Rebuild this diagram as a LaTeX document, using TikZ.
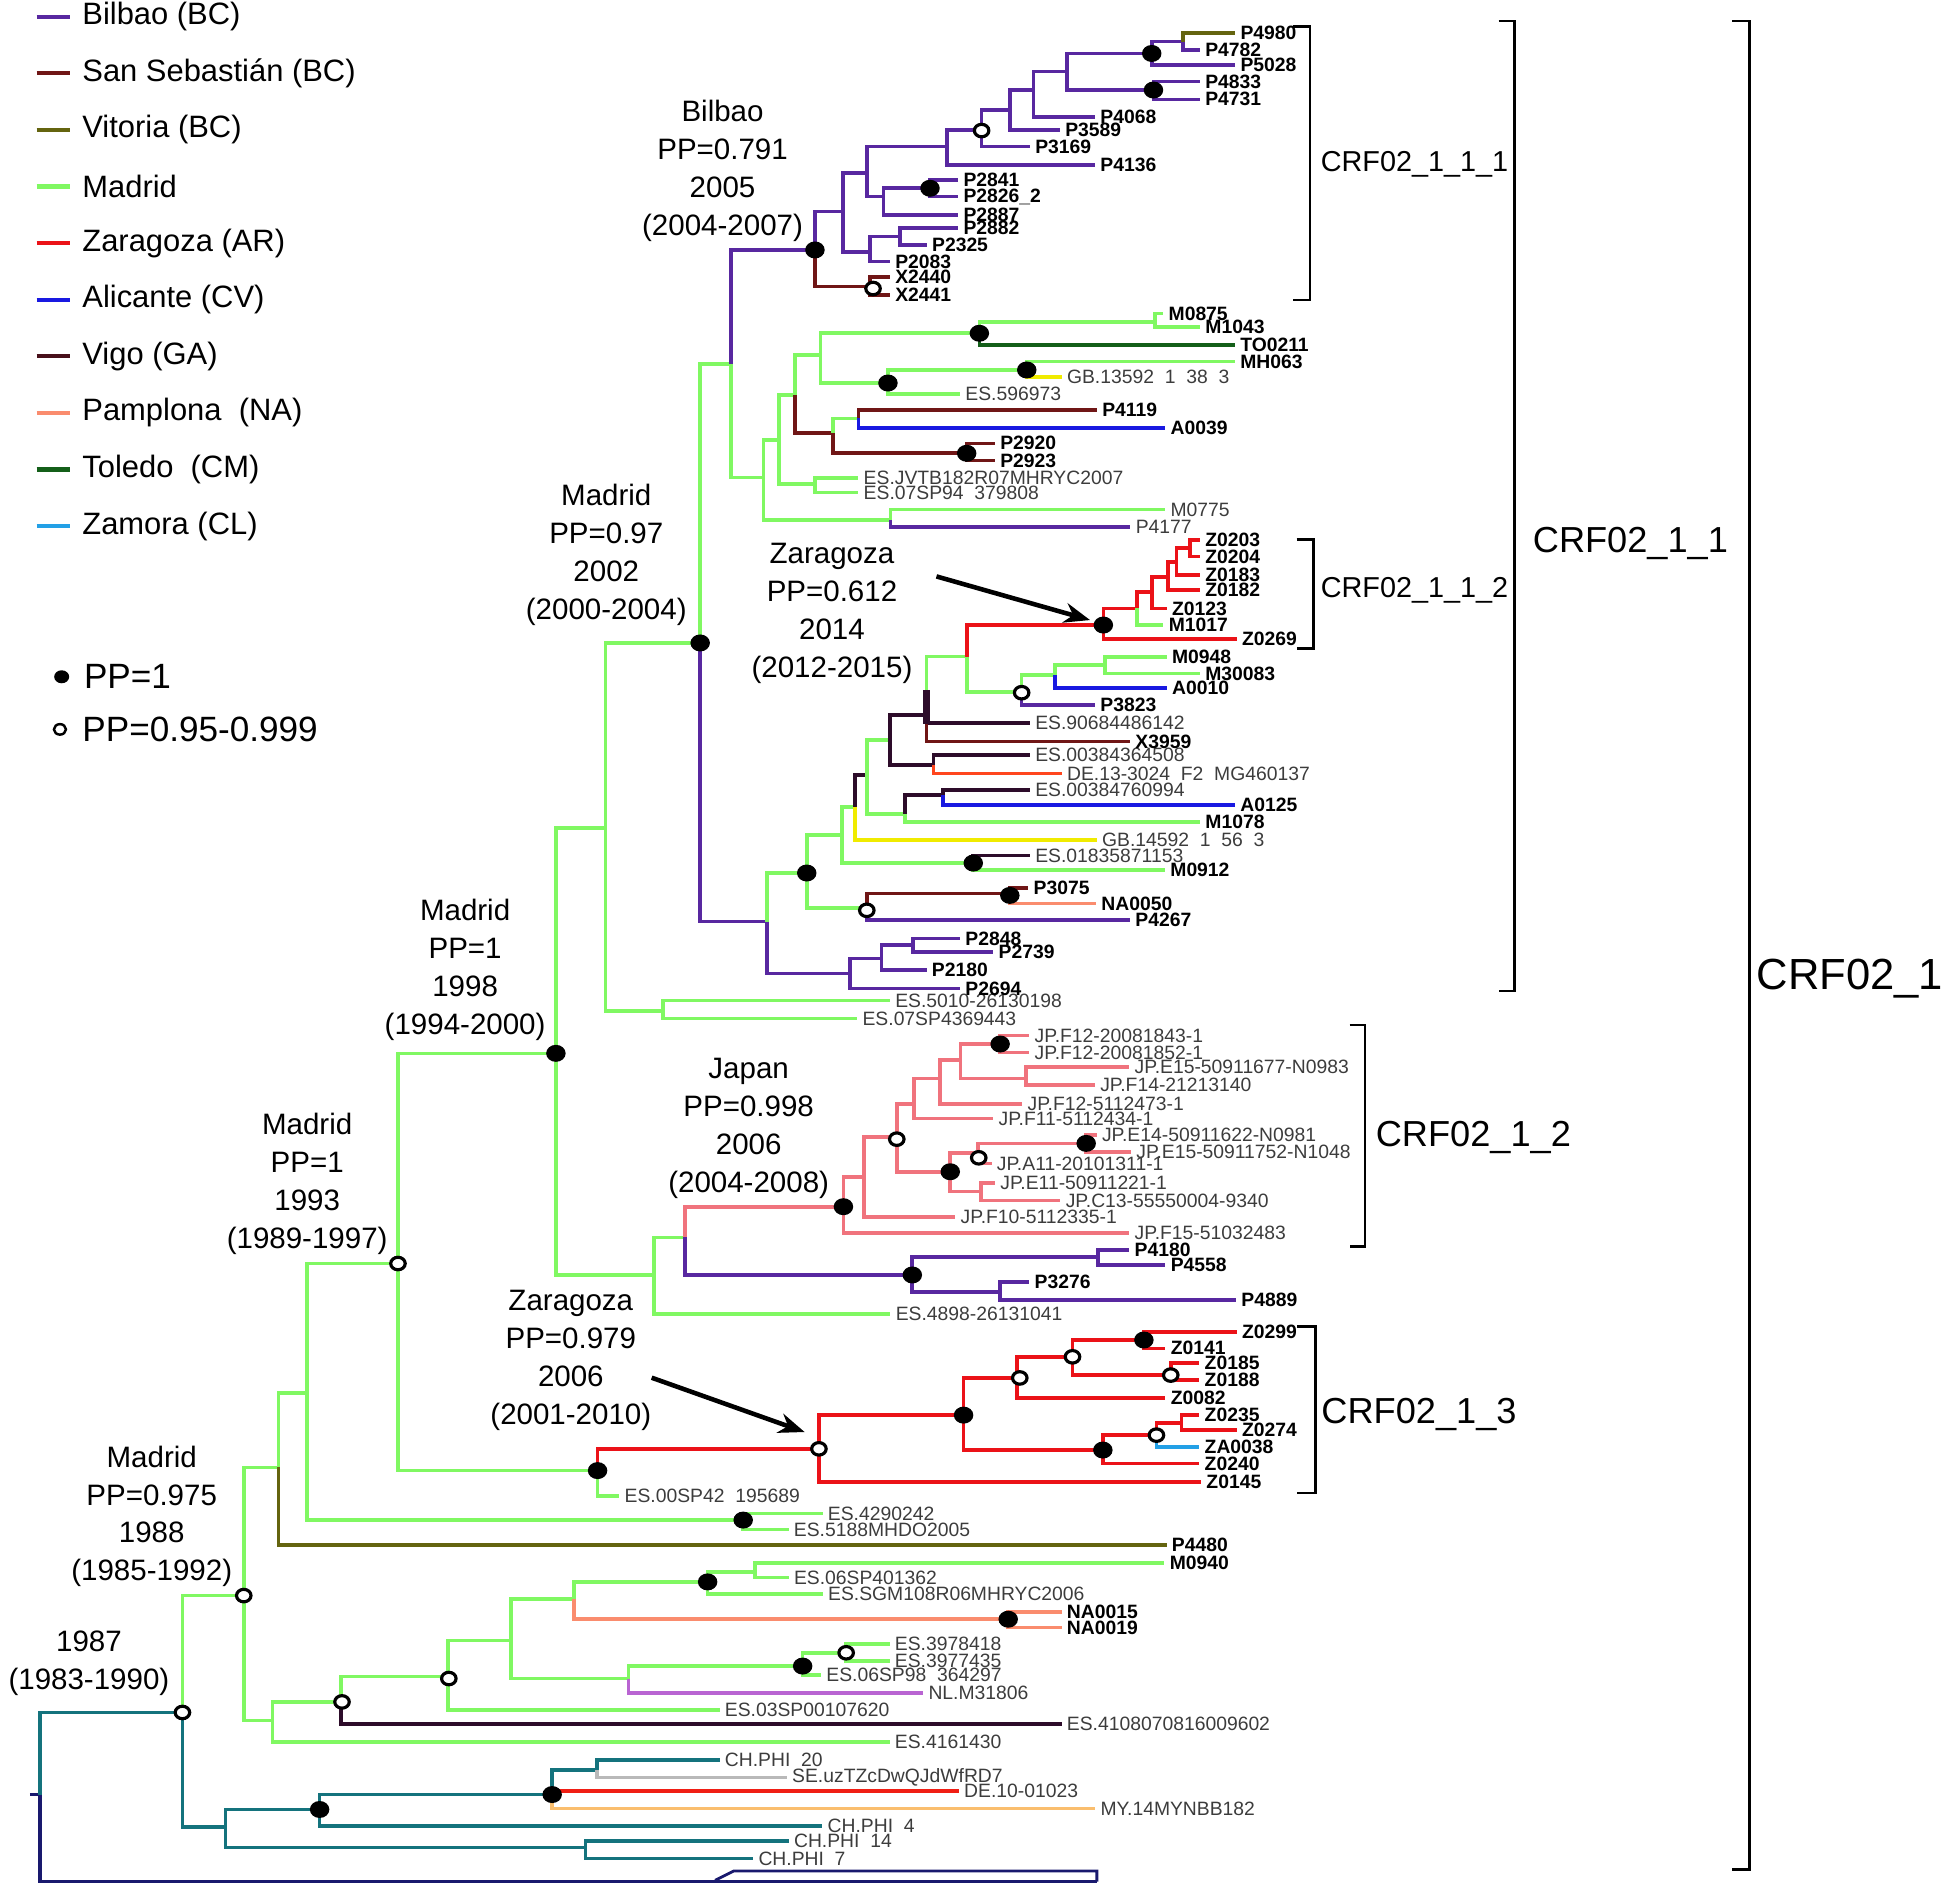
\documentclass[tikz,border=0pt]{standalone}
\usepackage{fontspec}
\setmainfont{Liberation Sans}
\usetikzlibrary{arrows.meta,shapes.geometric}

\definecolor{bilbao}{RGB}{88,40,160}
\definecolor{sanseb}{RGB}{112,22,22}
\definecolor{vitoria}{RGB}{100,100,15}
\definecolor{mad}{RGB}{128,248,98}
\definecolor{zar}{RGB}{235,18,24}
\definecolor{alic}{RGB}{25,25,225}
\definecolor{vigo}{RGB}{72,16,26}
\definecolor{dark}{RGB}{45,12,42}
\definecolor{pampl}{RGB}{250,140,110}
\definecolor{toledo}{RGB}{20,95,25}
\definecolor{zamora}{RGB}{35,160,230}
\definecolor{japan}{RGB}{240,115,125}
\definecolor{tealb}{RGB}{20,115,125}
\definecolor{navyb}{RGB}{25,25,110}
\definecolor{yel}{RGB}{240,235,0}
\definecolor{greyl}{RGB}{185,185,185}
\definecolor{orng}{RGB}{250,190,110}
\definecolor{dered}{RGB}{240,30,20}
\definecolor{deor}{RGB}{255,70,30}
\definecolor{nlc}{RGB}{185,100,210}
\definecolor{labgrey}{RGB}{60,60,60}

\tikzset{
  br/.style={line width=1.05pt},
  tipb/.style={anchor=west, inner sep=1pt, text=black, font=\fontsize{5.5}{6}\selectfont\bfseries},
  tipr/.style={anchor=west, inner sep=1pt, text=labgrey, font=\fontsize{5.5}{6}\selectfont},
  ppone/.style={ellipse, fill=black, inner sep=0pt, minimum width=1.95mm, minimum height=1.7mm},
  pphi/.style={ellipse, draw=black, fill=white, line width=0.9pt, inner sep=0pt, minimum width=1.45mm, minimum height=1.25mm},
  ann/.style={align=center, inner sep=0pt, font=\fontsize{8.4}{10.8}\selectfont},
  legt/.style={anchor=west, inner sep=0pt, font=\fontsize{8.8}{10}\selectfont},
  crf/.style={anchor=west, inner sep=0pt},
  brk/.style={line width=0.75pt},
  arr/.style={line width=1.3pt, -{Stealth[length=2.6mm, width=2mm]}},
}

\begin{document}
\begin{tikzpicture}[x=0.1244mm, y=-0.1244mm]
\useasboundingbox (0,0) rectangle (1568,1523);

% legend
\foreach \c/\t [count=\i] in {bilbao/Bilbao (BC), sanseb/San Sebastián (BC), vitoria/Vitoria (BC), mad/Madrid, zar/Zaragoza (AR), alic/Alicante (CV), vigo/Vigo (GA), pampl/Pamplona\ \ (NA), toledo/Toledo\ \ (CM), zamora/Zamora (CL)}{
  \pgfmathsetmacro{\ly}{13.5+45.5*(\i-1)}
  \draw[\c, line width=1.2pt] (29.5,\ly) -- (56.3,\ly);
  \node[legt] (leg\i) at (65.7,\ly) {\t};
}
\node[ppone, minimum width=1.5mm, minimum height=1.3mm] (keyone) at (49.6,544.2) {};
\node[legt, font=\fontsize{10}{12}\selectfont] (keyonet) at (67,544.2) {PP=1};
\node[pphi, minimum width=1.2mm, minimum height=1.05mm, line width=0.7pt] (keyhi) at (48.2,586.5) {};
\node[legt, font=\fontsize{10}{12}\selectfont] (keyhit) at (65.7,586.5) {PP=0.95-0.999};

% root and outgroup
\draw[navyb, br] (24,1443) -- (32,1443);
\draw[tealb, br] (32,1443) |- (146.7,1377);
\draw[navyb, br] (32,1443) |- (882,1513);
\draw[navyb, line width=0.8pt] (575,1512) -- (590,1504.5) -- (882,1504.5) -- (882,1513);

% teal clade
\draw[mad, br] (146.7,1377) |- (196,1283);
\draw[tealb, br] (146.7,1377) |- (181.4,1469);
\draw[tealb, br] (181.4,1469) |- (257,1455);
\draw[tealb, br] (181.4,1469) |- (470.7,1485.6);
\draw[tealb, br] (470.7,1485.6) |- (634.2,1480.4) node[tipr] (chphi14) {CH.PHI\ \ 14};
\draw[tealb, br] (470.7,1485.6) |- (605.6,1494.3) node[tipr] (chphi7) {CH.PHI\ \ 7};
\draw[tealb, br] (257,1455) |- (444,1443);
\draw[tealb, br] (257,1455) |- (661.2,1468.3) node[tipr] (chphi4) {CH.PHI\ \ 4};
\draw[tealb, br] (444,1443) |- (480,1423);
\draw[dered, br] (444,1443) |- (771,1440) node[tipr] (de1001023) {DE.10-01023};
\draw[orng, br] (444,1443) |- (880.7,1454.1) node[tipr] (my14) {MY.14MYNBB182};
\draw[tealb, br] (480,1423) |- (578.6,1415.2) node[tipr] (chphi20) {CH.PHI\ \ 20};
\draw[greyl, br] (480,1423) |- (632.7,1429.2) node[tipr] (seuz) {SE.uzTZcDwQJdWfRD7};

% Madrid 1988 and below
\draw[mad, br] (196,1283) |- (224,1180);
\draw[mad, br] (196,1283) |- (219,1383.4);
\draw[mad, br] (224,1180) |- (247,1120);
\draw[vitoria, br] (224,1180) |- (938,1242.5) node[tipb] (p4480) {P4480};
\draw[mad, br] (247,1120) |- (320,1016);
\draw[mad, br] (247,1120) |- (597.6,1222.3);
\draw[mad, br] (597.6,1222.3) |- (661.4,1216.9) node[tipr] (es4290242) {ES.4290242};
\draw[mad, br] (597.6,1222.3) |- (634.1,1229.8) node[tipr] (es5188) {ES.5188MHDO2005};
\draw[mad, br] (219,1383.4) |- (274,1368.5);
\draw[mad, br] (219,1383.4) |- (715.3,1400.5) node[tipr] (es4161430) {ES.4161430};
\draw[mad, br] (274,1368.5) |- (360,1348);
\draw[dark, br] (274,1368.5) |- (853.6,1386.3) node[tipr] (es4108) {ES.4108070816009602};
\draw[mad, br] (360,1348) |- (410.7,1319.1);
\draw[mad, br] (360,1348) |- (578.6,1375) node[tipr] (es03sp) {ES.03SP00107620};
\draw[mad, br] (410.7,1319.1) |- (461.5,1285.5);
\draw[mad, br] (410.7,1319.1) |- (505.3,1349.7);
\draw[mad, br] (461.5,1285.5) |- (569,1272);
\draw[pampl, br] (461.5,1285.5) |- (810.7,1302);
\draw[mad, br] (569,1272) |- (607.2,1263.8);
\draw[mad, br] (569,1272) |- (661.6,1281.8) node[tipr] (essgm) {ES.SGM108R06MHRYC2006};
\draw[mad, br] (607.2,1263.8) |- (936.3,1256.6) node[tipb] (m0940) {M0940};
\draw[mad, br] (607.2,1263.8) |- (634.2,1268.4) node[tipr] (es06sp40) {ES.06SP401362};
\draw[pampl, br] (810.7,1302) |- (853.6,1296) node[tipb] (na0015) {NA0015};
\draw[pampl, br] (810.7,1302) |- (853.6,1308.6) node[tipb] (na0019) {NA0019};
\draw[mad, br] (505.3,1349.7) |- (645.4,1339.7);
\draw[nlc, br] (505.3,1349.7) |- (742.3,1361.1) node[tipr] (nlm31806) {NL.M31806};
\draw[mad, br] (645.4,1339.7) |- (680.4,1329);
\draw[mad, br] (645.4,1339.7) |- (660.2,1346.9) node[tipr] (es06sp98) {ES.06SP98\ \ 364297};
\draw[mad, br] (680.4,1329) |- (715.3,1322) node[tipr] (es3978418) {ES.3978418};
\draw[mad, br] (680.4,1329) |- (715.3,1335.4) node[tipr] (es3977435) {ES.3977435};

% Madrid 1993 and Zaragoza CRF02_1_3
\draw[mad, br] (320,1016) |- (447,847);
\draw[mad, br] (320,1016) |- (480.5,1182.5);
\draw[zar, br] (480.5,1182.5) |- (658.5,1165);
\draw[mad, br] (480.5,1182.5) |- (498,1202.8) node[tipr] (es00sp42) {ES.00SP42\ \ 195689};
\draw[zar, br] (658.5,1165) |- (774.8,1137.9);
\draw[zar, br] (658.5,1165) |- (965.8,1191.4) node[tipb] (z0145) {Z0145};
\draw[zar, br] (774.8,1137.9) |- (817.9,1108.3);
\draw[zar, br] (774.8,1137.9) |- (886.8,1166);
\draw[zar, br] (817.9,1108.3) |- (862.4,1091);
\draw[zar, br] (817.9,1108.3) |- (937.1,1124.4) node[tipb] (z0082) {Z0082};
\draw[zar, br] (862.4,1091) |- (919.8,1077.5);
\draw[zar, br] (862.4,1091) |- (941.4,1105.7);
\draw[zar, br] (919.8,1077.5) |- (994.5,1070.8) node[tipb] (z0299) {Z0299};
\draw[zar, br] (919.8,1077.5) |- (937.1,1084.2) node[tipb] (z0141) {Z0141};
\draw[zar, br] (941.4,1105.7) |- (964.4,1096.2) node[tipb] (z0185) {Z0185};
\draw[zar, br] (941.4,1105.7) |- (964.4,1109.6) node[tipb] (z0188) {Z0188};
\draw[zar, br] (886.8,1166) |- (929.9,1154);
\draw[zar, br] (886.8,1166) |- (964.4,1176.8) node[tipb] (z0240) {Z0240};
\draw[zar, br] (929.9,1154) |- (950,1144.5);
\draw[zamora, br] (929.9,1154) |- (964.4,1163.3) node[tipb] (za0038) {ZA0038};
\draw[zar, br] (950,1144.5) |- (964.4,1138) node[tipb] (z0235) {Z0235};
\draw[zar, br] (950,1144.5) |- (994.5,1150) node[tipb] (z0274) {Z0274};

% Madrid 1998 backbone
\draw[mad, br] (447,847) |- (487,666);
\draw[mad, br] (487,666) |- (563,517);
\draw[mad, br] (487,666) |- (533,812.7);
\draw[mad, br] (533,812.7) |- (715.6,804.6) node[tipr] (es5010) {ES.5010-26130198};
\draw[mad, br] (533,812.7) |- (689.3,819) node[tipr] (es07sp43) {ES.07SP4369443};
\draw[mad, br] (447,847) |- (526,1025);
\draw[mad, br] (526,1025) |- (551,995);
\draw[mad, br] (526,1025) |- (716,1056.6) node[tipr] (es4898) {ES.4898-26131041};
\draw[japan, br] (551,995) |- (678.2,970.3);
\draw[bilbao, br] (551,995) |- (733.6,1025.2);

% Japan clade CRF02_1_2
\draw[japan, br] (678.2,970.3) |- (694.8,946.2);
\draw[japan, br] (678.2,970.3) |- (908.1,991.3) node[tipr] (jpf15a) {JP.F15-51032483};
\draw[japan, br] (694.8,946.2) |- (721.1,914.3);
\draw[japan, br] (694.8,946.2) |- (768.2,978.4) node[tipr] (jpf10) {JP.F10-5112335-1};
\draw[japan, br] (721.1,914.3) |- (735,887.7);
\draw[japan, br] (721.1,914.3) |- (764.1,942.2);
\draw[japan, br] (735,887.7) |- (755.8,867.1);
\draw[japan, br] (735,887.7) |- (798.7,899.3) node[tipr] (jpf11) {JP.F11-5112434-1};
\draw[japan, br] (755.8,867.1) |- (772.4,852.4);
\draw[japan, br] (755.8,867.1) |- (822,887.7) node[tipr] (jpf12c) {JP.F12-5112473-1};
\draw[japan, br] (772.4,852.4) |- (804.2,839.5);
\draw[japan, br] (772.4,852.4) |- (825,867.1);
\draw[japan, br] (804.2,839.5) |- (827.7,832.7) node[tipr] (jpf12a) {JP.F12-20081843-1};
\draw[japan, br] (804.2,839.5) |- (827.7,846.2) node[tipr] (jpf12b) {JP.F12-20081852-1};
\draw[japan, br] (825,867.1) |- (908.1,858.2) node[tipr] (jpe15a) {JP.E15-50911677-N0983};
\draw[japan, br] (825,867.1) |- (880.4,872.4) node[tipr] (jpf14) {JP.F14-21213140};
\draw[japan, br] (764.1,942.2) |- (786.2,927.4);
\draw[japan, br] (764.1,942.2) |- (789,958.1);
\draw[japan, br] (786.2,927.4) |- (873.4,919.4);
\draw[japan, br] (786.2,927.4) |- (797.3,935.5) node[tipr] (jpa11) {JP.A11-20101311-1};
\draw[japan, br] (873.4,919.4) |- (881.8,912.7) node[tipr] (jpe14) {JP.E14-50911622-N0981};
\draw[japan, br] (873.4,919.4) |- (909.5,926.1) node[tipr] (jpe15b) {JP.E15-50911752-N1048};
\draw[japan, br] (789,958.1) |- (800.1,951.4) node[tipr] (jpe11) {JP.E11-50911221-1};
\draw[japan, br] (789,958.1) |- (852.7,965.4) node[tipr] (jpc13) {JP.C13-55550004-9340};
\draw[bilbao, br] (733.6,1025.2) |- (883.1,1010.5);
\draw[bilbao, br] (733.6,1025.2) |- (804.2,1038.7);
\draw[bilbao, br] (883.1,1010.5) |- (908.1,1005.2) node[tipb] (p4180) {P4180};
\draw[bilbao, br] (883.1,1010.5) |- (937.1,1017.3) node[tipb] (p4558) {P4558};
\draw[bilbao, br] (804.2,1038.7) |- (827.7,1030.6) node[tipb] (p3276) {P3276};
\draw[bilbao, br] (804.2,1038.7) |- (993.9,1045.4) node[tipb] (p4889) {P4889};

% Madrid 0.97 node, upper green part
\draw[mad, br] (563,517) |- (588,292.5);
\draw[mad, br] (588,292.5) |- (614,384);
\draw[mad, br] (614,384) |- (626.6,353.6);
\draw[mad, br] (614,384) |- (716,418.2);
\draw[mad, br] (716,418.2) |- (937,409.6) node[tipr] (m0775) {M0775};
\draw[bilbao, br] (716,418.2) |- (909,423.5) node[tipr] (p4177) {P4177};
\draw[mad, br] (626.6,353.6) |- (639,317.7);
\draw[mad, br] (626.6,353.6) |- (655.2,389.4);
\draw[mad, br] (655.2,389.4) |- (690.2,384.4) node[tipr] (esjvtb) {ES.JVTB182R07MHRYC2007};
\draw[mad, br] (655.2,389.4) |- (690.2,396) node[tipr] (es07sp94) {ES.07SP94\ \ 379808};
\draw[mad, br] (639,317.7) |- (659.8,285.4);
\draw[sanseb, br] (639,317.7) |- (669.6,348.2);
\draw[mad, br] (659.8,285.4) |- (787.5,268);
\draw[mad, br] (659.8,285.4) |- (714,308);
\draw[mad, br] (787.5,268) |- (928.8,258.7);
\draw[toledo, br] (787.5,268) |- (993,277.4) node[tipb] (to0211) {TO0211};
\draw[mad, br] (928.8,258.7) |- (935.4,252) node[tipb] (m0875) {M0875};
\draw[mad, br] (928.8,258.7) |- (965,262.7) node[tipb] (m1043) {M1043};
\draw[mad, br] (714,308) |- (825.6,297.5);
\draw[mad, br] (714,308) |- (772,316.8) node[tipr] (es596973) {ES.596973};
\draw[mad, br] (825.6,297.5) |- (993,290.8) node[tipb] (mh063) {MH063};
\draw[yel, br] (825.6,297.5) |- (853.7,303.4) node[tipr] (gb13592) {GB.13592\ \ 1\ \ 38\ \ 3};
\draw[mad, br] (669.6,348.2) |- (690.2,336.4);
\draw[sanseb, br] (669.6,348.2) |- (777.3,364.5);
\draw[sanseb, br] (690.2,336.4) |- (882,329.7) node[tipb] (p4119) {P4119};
\draw[alic, br] (690.2,336.4) |- (937,344.4) node[tipb] (a0039) {A0039};
\draw[sanseb, br] (777.3,364.5) |- (800,356.5) node[tipb] (p2920) {P2920};
\draw[sanseb, br] (777.3,364.5) |- (800,370.4) node[tipb] (p2923) {P2923};

% Bilbao clade CRF02_1_1_1
\draw[bilbao, br] (588,292.5) |- (655.3,201);
\draw[bilbao, br] (655.3,201) |- (678.1,170.2);
\draw[sanseb, br] (655.3,201) |- (699.5,230.5);
\draw[sanseb, br] (699.5,230.5) |- (715.6,223) node[tipb] (x2440) {X2440};
\draw[sanseb, br] (699.5,230.5) |- (715.6,237.2) node[tipb] (x2441) {X2441};
\draw[bilbao, br] (678.1,170.2) |- (696.9,139.3);
\draw[bilbao, br] (678.1,170.2) |- (699.5,202.4);
\draw[bilbao, br] (699.5,202.4) |- (723.7,190.3);
\draw[bilbao, br] (699.5,202.4) |- (715.6,210.4) node[tipb] (p2083) {P2083};
\draw[bilbao, br] (723.7,190.3) |- (770.5,183.6) node[tipb] (p2882) {P2882};
\draw[bilbao, br] (723.7,190.3) |- (745.2,197) node[tipb] (p2325) {P2325};
\draw[bilbao, br] (696.9,139.3) |- (761.2,117.9);
\draw[bilbao, br] (696.9,139.3) |- (710.3,158.1);
\draw[bilbao, br] (710.3,158.1) |- (747.8,151.4);
\draw[bilbao, br] (710.3,158.1) |- (770.5,172.9) node[tipb] (p2887) {P2887};
\draw[bilbao, br] (747.8,151.4) |- (770.5,144.7) node[tipb] (p2841) {P2841};
\draw[bilbao, br] (747.8,151.4) |- (770.5,158.1) node[tipb] (p2826) {P2826\_2};
\draw[bilbao, br] (761.2,117.9) |- (789.3,104.5);
\draw[bilbao, br] (761.2,117.9) |- (880.5,132.7) node[tipb] (p4136) {P4136};
\draw[bilbao, br] (789.3,104.5) |- (812.1,88.5);
\draw[bilbao, br] (789.3,104.5) |- (828.2,117.9) node[tipb] (p3169) {P3169};
\draw[bilbao, br] (812.1,88.5) |- (831,72.4);
\draw[bilbao, br] (812.1,88.5) |- (852.3,104.5) node[tipb] (p3589) {P3589};
\draw[bilbao, br] (831,72.4) |- (857.7,57.6);
\draw[bilbao, br] (831,72.4) |- (880.5,94) node[tipb] (p4068) {P4068};
\draw[bilbao, br] (857.7,57.6) |- (926.1,43);
\draw[bilbao, br] (857.7,57.6) |- (927.5,72.4);
\draw[bilbao, br] (926.1,43) |- (951.5,33.5);
\draw[bilbao, br] (926.1,43) |- (993.2,52.3) node[tipb] (p5028) {P5028};
\draw[vitoria, br] (951.5,33.5) |- (993.2,26.3) node[tipb] (p4980) {P4980};
\draw[bilbao, br] (951.5,33.5) |- (964.9,40.2) node[tipb] (p4782) {P4782};
\draw[bilbao, br] (927.5,72.4) |- (964.9,65.6) node[tipb] (p4833) {P4833};
\draw[bilbao, br] (927.5,72.4) |- (964.9,79.9) node[tipb] (p4731) {P4731};

% Madrid 0.97 node, lower purple part
\draw[bilbao, br] (563,517) |- (616.5,741);
\draw[mad, br] (616.5,741) |- (648.7,702);
\draw[bilbao, br] (616.5,741) |- (683.5,782.7);
\draw[bilbao, br] (683.5,782.7) |- (708.9,770.7);
\draw[bilbao, br] (683.5,782.7) |- (772,794.8) node[tipb] (p2694) {P2694};
\draw[bilbao, br] (708.9,770.7) |- (734.4,759.9);
\draw[bilbao, br] (708.9,770.7) |- (745.1,780) node[tipb] (p2180) {P2180};
\draw[bilbao, br] (734.4,759.9) |- (772,754.6) node[tipb] (p2848) {P2848};
\draw[bilbao, br] (734.4,759.9) |- (798.7,765.3) node[tipb] (p2739) {P2739};
\draw[mad, br] (648.7,702) |- (676.8,671.4);
\draw[mad, br] (648.7,702) |- (696.9,730.4);
\draw[sanseb, br] (696.9,730.4) |- (812,718.4);
\draw[bilbao, br] (696.9,730.4) |- (908.7,739.8) node[tipb] (p4267) {P4267};
\draw[sanseb, br] (812,718.4) |- (826.9,714.3) node[tipb] (p3075) {P3075};
\draw[pampl, br] (812,718.4) |- (881.3,726.4) node[tipb] (na0050) {NA0050};
\draw[mad, br] (676.8,671.4) |- (687.5,648.7);
\draw[mad, br] (676.8,671.4) |- (782.6,694.2);
\draw[dark, br] (782.6,694.2) |- (828.2,687.8) node[tipr] (es0183) {ES.01835871153};
\draw[mad, br] (782.6,694.2) |- (936.8,699.6) node[tipb] (m0912) {M0912};
\draw[dark, br] (687.5,648.7) |- (696.9,623.2);
\draw[yel, br] (687.5,648.7) |- (881.9,675.5) node[tipr] (gb14592) {GB.14592\ \ 1\ \ 56\ \ 3};
\draw[mad, br] (696.9,623.2) |- (715.7,595);
\draw[mad, br] (696.9,623.2) |- (727.7,654.7);
\draw[dark, br] (727.7,654.7) |- (758.5,639.4);
\draw[mad, br] (727.7,654.7) |- (965,660.8) node[tipb] (m1078) {M1078};
\draw[dark, br] (758.5,639.4) |- (828.2,635.3) node[tipr] (es0038476) {ES.00384760994};
\draw[alic, br] (758.5,639.4) |- (993.1,647.4) node[tipb] (a0125) {A0125};
\draw[dark, br] (715.7,595) |- (745.1,575);
\draw[dark, br] (715.7,595) |- (750.5,615);
\draw[dark, br] (750.5,615) |- (828.2,607) node[tipr] (es0038436) {ES.00384364508};
\draw[deor, br] (750.5,615) |- (853.7,622) node[tipr] (de133024) {DE.13-3024\ \ F2\ \ MG460137};
\draw[mad, br] (745.1,575) |- (777.3,528);
\draw[dark, br] (745.1,575) |- (828.2,581.6) node[tipr] (es9068) {ES.90684486142};
\draw[sanseb, br] (745.1,575) |- (908.7,596.3) node[tipb] (x3959) {X3959};
\draw[dark, line width=2pt] (745.1,555) -- (745.1,582);
\draw[zar, br] (777.3,528) |- (887.2,502.6);
\draw[mad, br] (777.3,528) |- (821.5,556.2);

% Zaragoza clade CRF02_1_1_2
\draw[zar, br] (887.2,502.6) |- (914,489.2);
\draw[zar, br] (887.2,502.6) |- (994.4,514.1) node[tipb] (z0269) {Z0269};
\draw[zar, br] (914,489.2) |- (926.1,475.8);
\draw[mad, br] (914,489.2) |- (935.5,502.6) node[tipb] (m1017) {M1017};
\draw[zar, br] (926.1,475.8) |- (939.4,463.8);
\draw[zar, br] (926.1,475.8) |- (938.2,489.2) node[tipb] (z0123) {Z0123};
\draw[zar, br] (939.4,463.8) |- (946.1,451.7);
\draw[zar, br] (939.4,463.8) |- (964.9,474.5) node[tipb] (z0182) {Z0182};
\draw[zar, br] (946.1,451.7) |- (956.8,440.9);
\draw[zar, br] (946.1,451.7) |- (964.9,462.3) node[tipb] (z0183) {Z0183};
\draw[zar, br] (956.8,440.9) |- (964.9,434.2) node[tipb] (z0203) {Z0203};
\draw[zar, br] (956.8,440.9) |- (964.9,447.6) node[tipb] (z0204) {Z0204};
\draw[mad, br] (821.5,556.2) |- (848.3,542.8);
\draw[bilbao, br] (821.5,556.2) |- (880.5,566.9) node[tipb] (p3823) {P3823};
\draw[mad, br] (848.3,542.8) |- (888.5,534.8);
\draw[alic, br] (848.3,542.8) |- (938.2,553.5) node[tipb] (a0010) {A0010};
\draw[mad, br] (888.5,534.8) |- (938.2,528.1) node[tipb] (m0948) {M0948};
\draw[mad, br] (888.5,534.8) |- (964.9,541.5) node[tipb] (m30083) {M30083};

% PP = 1
\node[ppone] (dBil) at (655.3,201) {};
\node[ppone] (dP2841) at (747.8,151.4) {};
\node[ppone] (dP4980) at (926.1,43) {};
\node[ppone] (dP4833) at (927.5,72.4) {};
\node[ppone] (dM0875) at (787.5,268) {};
\node[ppone] (dES5969) at (714,308) {};
\node[ppone] (dMH063) at (825.6,297.5) {};
\node[ppone] (dP2920) at (777.3,364.5) {};
\node[ppone] (dMad97) at (563,517) {};
\node[ppone] (dZar612) at (887.2,502.6) {};
\node[ppone] (dM0912a) at (648.7,702) {};
\node[ppone] (dM0912b) at (782.6,694) {};
\node[ppone] (dP3075) at (812,720) {};
\node[ppone] (dMad98) at (447,847) {};
\node[ppone] (dJap) at (678.2,970.3) {};
\node[ppone] (dJP11) at (764.1,942.2) {};
\node[ppone] (dJP12) at (804.2,839.5) {};
\node[ppone] (dJP14) at (873.4,919.4) {};
\node[ppone] (dP4180) at (733.6,1025.2) {};
\node[ppone] (dES00) at (480.5,1182.5) {};
\node[ppone] (dZ0299a) at (774.8,1137.9) {};
\node[ppone] (dZ0240) at (886.8,1166) {};
\node[ppone] (dZ0299b) at (919.8,1077.5) {};
\node[ppone] (dES4290) at (597.6,1222.3) {};
\node[ppone] (dM0940) at (569,1272) {};
\node[ppone] (dNA) at (810.7,1302) {};
\node[ppone] (dES3978) at (645.4,1339.7) {};
\node[ppone] (dCH4) at (257,1455) {};
\node[ppone] (dDE) at (444,1443) {};

% PP = 0.95-0.999
\node[pphi] (oX2440) at (702,232) {};
\node[pphi] (oP3169) at (789.3,105) {};
\node[pphi] (oP3823) at (821.5,557) {};
\node[pphi] (oP4267) at (697,732) {};
\node[pphi] (oJP11) at (721.1,916) {};
\node[pphi] (oJPA11) at (787,931) {};
\node[pphi] (oZar979) at (658.5,1165) {};
\node[pphi] (oZ0082) at (820,1108) {};
\node[pphi] (oZ0299) at (862.4,1091) {};
\node[pphi] (oZ0185) at (941.4,1105.7) {};
\node[pphi] (oZA0038) at (929.9,1154) {};
\node[pphi] (oMad93) at (320,1016) {};
\node[pphi] (oMad88) at (196,1283) {};
\node[pphi] (o1987) at (146.7,1377) {};
\node[pphi] (oES4108) at (275,1368.5) {};
\node[pphi] (oES03) at (360.9,1349.7) {};
\node[pphi] (oES3978) at (680.4,1329) {};

% dates
\node[ann] (aBil) at (581,137.3) {Bilbao\\PP=0.791\\2005\\(2004-2007)};
\node[ann] (aMad97) at (487.5,446) {Madrid\\PP=0.97\\2002\\(2000-2004)};
\node[ann] (aZar612) at (669,493) {Zaragoza\\PP=0.612\\2014\\(2012-2015)};
\node[ann] (aMad98) at (374,780) {Madrid\\PP=1\\1998\\(1994-2000)};
\node[ann] (aJap) at (602,907.4) {Japan\\PP=0.998\\2006\\(2004-2008)};
\node[ann] (aMad93) at (247,952) {Madrid\\PP=1\\1993\\(1989-1997)};
\node[ann] (aZar979) at (459,1094) {Zaragoza\\PP=0.979\\2006\\(2001-2010)};
\node[ann] (aMad88) at (122,1219.3) {Madrid\\PP=0.975\\1988\\(1985-1992)};
\node[ann] (a1987) at (71.5,1337.5) {1987\\(1983-1990)};

\coordinate (arZ1s) at (753,463.5);
\coordinate (arZ1e) at (876.5,498.6);
\draw[arr] (arZ1s) -- (arZ1e);
\coordinate (arZ2s) at (524,1107.8);
\coordinate (arZ2e) at (647,1151.5);
\draw[arr] (arZ2s) -- (arZ2e);

% clusters
\draw[brk] (1040,21.3) -- (1053.4,21.3) -- (1053.4,241.2) -- (1040,241.2);
\node[crf, font=\fontsize{8.2}{10}\selectfont] (c111) at (1061.5,132) {CRF02\_1\_1\_1};
\draw[brk] (1042.6,433.9) -- (1056,433.9) -- (1056,521.3) -- (1042.6,521.3);
\node[crf, font=\fontsize{8.2}{10}\selectfont] (c112) at (1061.5,475) {CRF02\_1\_1\_2};
\draw[brk] (1205,17) -- (1218,17) -- (1218,797) -- (1205,797);
\node[crf, font=\fontsize{10.3}{12}\selectfont] (c11) at (1232,437) {CRF02\_1\_1};
\draw[brk] (1085.2,824.2) -- (1097.7,824.2) -- (1097.7,1002.5) -- (1085.2,1002.5);
\node[crf, font=\fontsize{10.3}{12}\selectfont] (c12) at (1105.7,915) {CRF02\_1\_2};
\draw[brk] (1043.3,1066.8) -- (1057.7,1066.8) -- (1057.7,1200.4) -- (1043.3,1200.4);
\node[crf, font=\fontsize{10.3}{12}\selectfont] (c13) at (1062,1137) {CRF02\_1\_3};
\draw[brk] (1393,17) -- (1407,17) -- (1407,1503) -- (1393,1503);
\node[crf, font=\fontsize{12.4}{14}\selectfont] (c1) at (1412,787) {CRF02\_1};
\end{tikzpicture}
\end{document}
